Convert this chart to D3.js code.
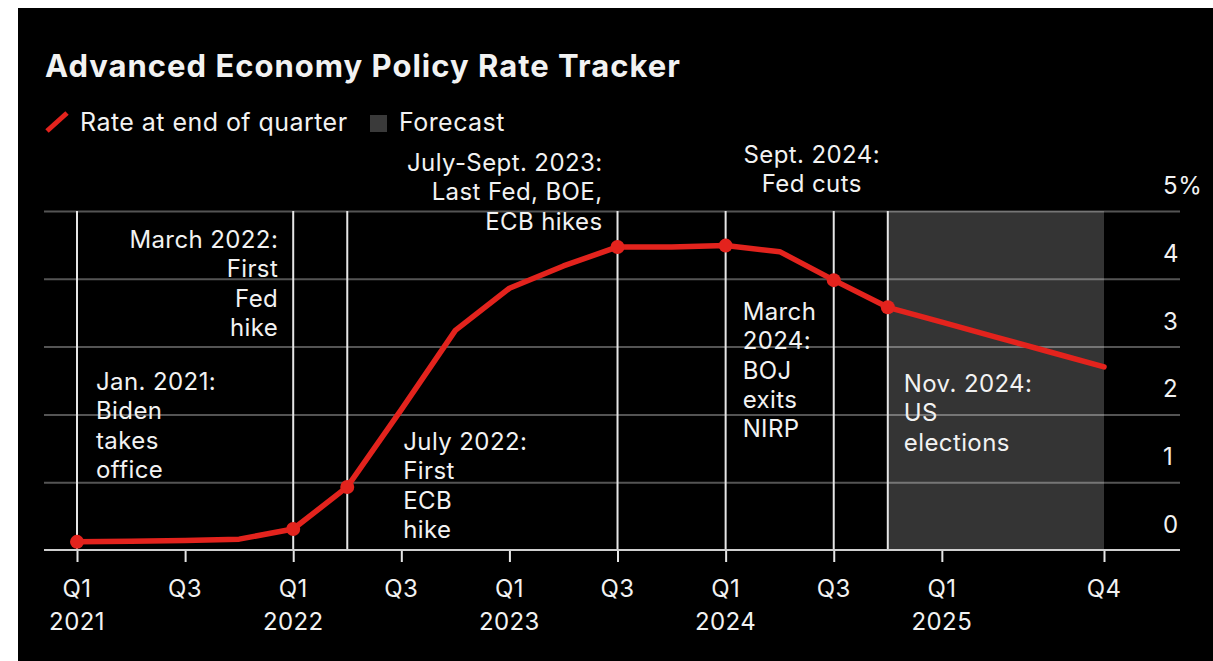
<!DOCTYPE html>
<html>
<head>
<meta charset="utf-8">
<script src="https://cdn.jsdelivr.net/npm/d3@7"></script>
<style>
  html, body { margin: 0; padding: 0; background: #fff; }
  svg { display: block; }
  text { font-family: Inter, "Liberation Sans", Arial, sans-serif; fill: #f2f2f2; }
</style>
</head>
<body>
<svg id="chart" width="1213" height="661"></svg>
<script>
// ---- data ----
const quarters = ["Q1 2021","Q2 2021","Q3 2021","Q4 2021","Q1 2022","Q2 2022","Q3 2022","Q4 2022",
                  "Q1 2023","Q2 2023","Q3 2023","Q4 2023","Q1 2024","Q2 2024","Q3 2024","Q4 2024",
                  "Q1 2025","Q2 2025","Q3 2025","Q4 2025"];
const rates = [0.12, 0.13, 0.14, 0.16, 0.31, 0.93, 2.07, 3.24,
               3.86, 4.19, 4.47, 4.47, 4.49, 4.40, 3.98, 3.58,
               3.36, 3.14, 2.92, 2.70];
const markerQuarters = ["Q1 2021","Q1 2022","Q2 2022","Q3 2023","Q1 2024","Q3 2024","Q4 2024"];
const forecastStart = "Q4 2024";
const forecastEnd = "Q4 2025";
const yTicks = [0, 1, 2, 3, 4, 5];
const yTickLabels = ["0", "1", "2", "3", "4", "5%"];
const xTickQuarters = ["Q1 2021","Q3 2021","Q1 2022","Q3 2022","Q1 2023","Q3 2023","Q1 2024","Q3 2024","Q1 2025","Q4 2025"];
const xTickLabels = [["Q1","2021"],["Q3",""],["Q1","2022"],["Q3",""],["Q1","2023"],["Q3",""],["Q1","2024"],["Q3",""],["Q1","2025"],["Q4",""]];
const eventQuarters = ["Q1 2021","Q1 2022","Q2 2022","Q3 2023","Q1 2024","Q3 2024","Q4 2024"];
const eventTexts = [
  ["Jan. 2021:", "Biden", "takes", "office"],
  ["March 2022:", "First", "Fed", "hike"],
  ["July 2022:", "First", "ECB", "hike"],
  ["July-Sept. 2023:", "Last Fed, BOE,", "ECB hikes"],
  ["March", "2024:", "BOJ", "exits", "NIRP"],
  ["Sept. 2024:", "Fed cuts"],
  ["Nov. 2024:", "US", "elections"]
];
const titleText = "Advanced Economy Policy Rate Tracker";
const legendLine = "Rate at end of quarter";
const legendForecast = "Forecast";

// ---- layout (pixel placement of annotations) ----
const eventLayout = [
  {dx: 19,  y: 390, anchor: "start"},
  {dx: -15, y: 248, anchor: "end"},
  {dx: 56,  y: 450, anchor: "start"},
  {dx: -15, y: 171, anchor: "end"},
  {dx: 17,  y: 320, anchor: "start"},
  {dx: -22, y: 163, anchor: "middle"},
  {dx: 16,  y: 392, anchor: "start"}
];

const RED = "#e3231d";
const svg = d3.select("#chart");

// panel
svg.append("rect").attr("x", 18).attr("y", 8).attr("width", 1213 - 18).attr("height", 661 - 8).attr("fill", "#000");

const x = d3.scaleLinear().domain([0, quarters.length - 1]).range([77, 1104]);
const y = d3.scaleLinear().domain([0, 5]).range([550, 211]);
const qi = q => quarters.indexOf(q);

// forecast shading
svg.append("rect")
  .attr("x", x(qi(forecastStart)))
  .attr("y", y(5))
  .attr("width", x(qi(forecastEnd)) - x(qi(forecastStart)))
  .attr("height", y(0) - y(5))
  .attr("fill", "#343434");

// horizontal gridlines via axis
const gridLeft = 44, gridRight = 1180;
const yAxis = d3.axisRight(y).tickValues(yTicks.filter(v => v > 0))
  .tickSize(gridRight - gridLeft).tickFormat("");
const gy = svg.append("g").attr("transform", `translate(${gridLeft},0)`).call(yAxis);
gy.select(".domain").remove();
gy.selectAll(".tick line").attr("stroke", "rgba(255,255,255,0.33)").attr("stroke-width", 2);

// y labels
svg.append("g").selectAll("text").data(yTicks).join("text")
  .attr("x", 1163)
  .attr("y", d => y(d) - 17)
  .attr("font-size", 24)
  .attr("letter-spacing", 0.6)
  .text((d, i) => yTickLabels[i]);

// event vertical lines
svg.append("g").selectAll("line").data(eventQuarters).join("line")
  .attr("x1", d => x(qi(d))).attr("x2", d => x(qi(d)))
  .attr("y1", y(5)).attr("y2", y(0))
  .attr("stroke", "#e6e6e6").attr("stroke-width", 2);

// x axis
const xAxis = d3.axisBottom(x).tickValues(xTickQuarters.map(qi)).tickSize(12).tickFormat("");
const gx = svg.append("g").attr("transform", `translate(0,${y(0)})`).call(xAxis);
gx.select(".domain").remove();
gx.selectAll(".tick line").attr("stroke", "#e6e6e6").attr("stroke-width", 2);
svg.append("line").attr("x1", gridLeft).attr("x2", gridRight).attr("y1", y(0)).attr("y2", y(0))
  .attr("stroke", "#cfcfcf").attr("stroke-width", 2);

const xl = svg.append("g").selectAll("text").data(xTickQuarters).join("text")
  .attr("text-anchor", "middle")
  .attr("font-size", 24)
  .attr("letter-spacing", 0.4);
xl.each(function(d, i) {
  const t = d3.select(this);
  const lab = xTickLabels[i];
  t.append("tspan").attr("x", x(qi(d))).attr("y", 597).text(lab[0]);
  if (lab[1]) t.append("tspan").attr("x", x(qi(d))).attr("y", 630).text(lab[1]);
});

// line
const line = d3.line().x((d, i) => x(i)).y(d => y(d));
svg.append("path").datum(rates)
  .attr("d", line)
  .attr("fill", "none")
  .attr("stroke", RED)
  .attr("stroke-width", 5.5)
  .attr("stroke-linejoin", "round")
  .attr("stroke-linecap", "round");

svg.append("g").selectAll("circle").data(markerQuarters).join("circle")
  .attr("cx", d => x(qi(d)))
  .attr("cy", d => y(rates[qi(d)]))
  .attr("r", 7)
  .attr("fill", RED);

// annotations
eventQuarters.forEach((q, i) => {
  const L = eventLayout[i];
  const t = svg.append("text")
    .attr("text-anchor", L.anchor)
    .attr("font-size", 24)
    .attr("letter-spacing", 0.4);
  eventTexts[i].forEach((s, j) => {
    t.append("tspan").attr("x", x(qi(q)) + L.dx).attr("y", L.y + j * 29.3).text(s);
  });
});

// title
svg.append("text").attr("x", 45).attr("y", 77)
  .attr("font-size", 31).attr("font-weight", 700).attr("letter-spacing", 1).text(titleText);

// legend
svg.append("line").attr("x1", 47).attr("y1", 131).attr("x2", 67).attr("y2", 113)
  .attr("stroke", RED).attr("stroke-width", 5);
svg.append("text").attr("x", 80).attr("y", 131).attr("font-size", 25).attr("letter-spacing", 0.45).text(legendLine);
svg.append("rect").attr("x", 370).attr("y", 115).attr("width", 17).attr("height", 17).attr("fill", "#3a3a3a");
svg.append("text").attr("x", 399).attr("y", 131).attr("font-size", 25).attr("letter-spacing", 0.45).text(legendForecast);
</script>
</body>
</html>
